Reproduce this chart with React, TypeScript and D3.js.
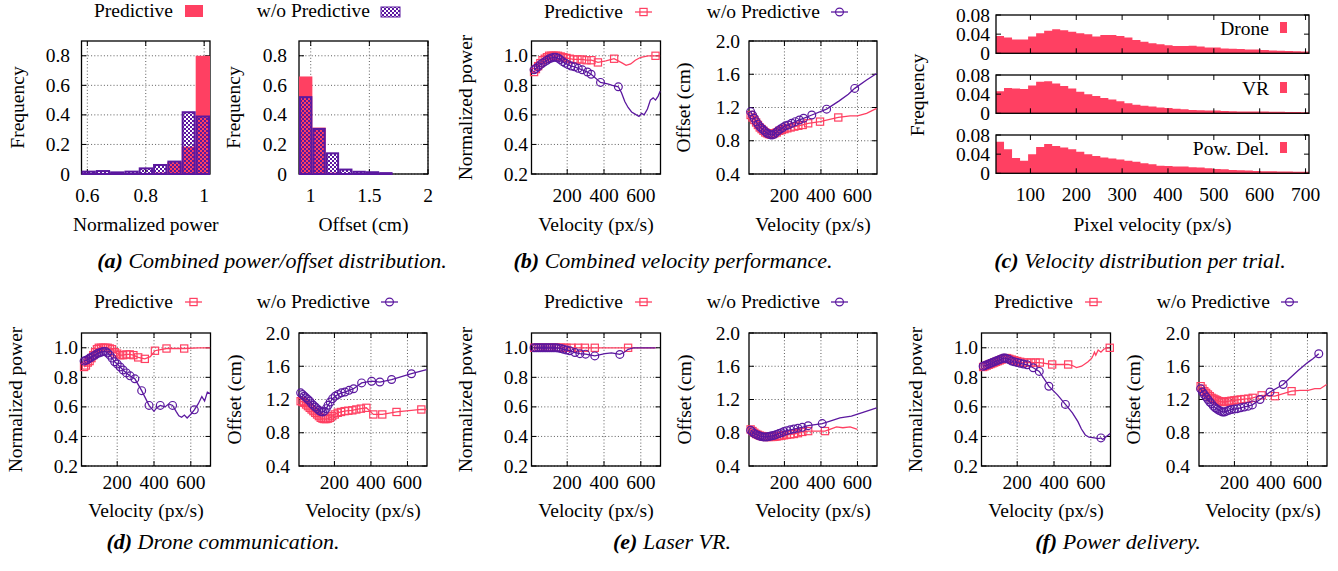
import React from 'react';
import * as d3 from 'd3';

type Pt = [number, number];

const RED = '#ff4062';
const PURPLE = '#5b189f';
const FONT = "Liberation Serif, 'DejaVu Serif', serif";
const FS = 19.5;

// ---- (a) combined histograms ----
const powEdges = [0.58, 0.629, 0.678, 0.727, 0.776, 0.825, 0.874, 0.923, 0.971, 1.02];
const powPred = [0, 0, 0, 0, 0.005, 0.01, 0.08, 0.185, 0.8];
const powNoPred = [0.016, 0.02, 0.011, 0.016, 0.038, 0.061, 0.084, 0.418, 0.389];
const offEdges = [0.9, 1.014, 1.128, 1.242, 1.356, 1.47, 1.584, 1.698];
const offPred = [0.66, 0.314, 0.01, 0, 0, 0, 0];
const offNoPred = [0.52, 0.305, 0.14, 0.03, 0.015, 0.012, 0.006];

// ---- (c) velocity distribution, bins of 17.5 px/s from 25 ----
const velBinStart = 25;
const velBinW = 17.5;
const droneFreq = [0.036, 0.033, 0.029, 0.029, 0.035, 0.042, 0.047, 0.05, 0.048, 0.045, 0.042, 0.04, 0.035, 0.038, 0.038, 0.036, 0.033, 0.028, 0.024, 0.021, 0.019, 0.017, 0.015, 0.015, 0.016, 0.014, 0.012, 0.012, 0.01, 0.0097, 0.009, 0.008, 0.008, 0.007, 0.006, 0.0055, 0.005, 0.0045, 0.004];
const vrFreq = [0.046, 0.053, 0.052, 0.051, 0.058, 0.066, 0.067, 0.062, 0.057, 0.052, 0.045, 0.04, 0.036, 0.032, 0.029, 0.025, 0.021, 0.018, 0.016, 0.014, 0.012, 0.011, 0.0097, 0.0083, 0.007, 0.0065, 0.006, 0.0056, 0.005, 0.0045, 0.004, 0.004, 0.0035, 0.0035, 0.003, 0.003, 0.0025, 0.0025, 0.002];
const powDelFreq = [0.066, 0.05, 0.032, 0.026, 0.04, 0.055, 0.061, 0.057, 0.054, 0.05, 0.045, 0.04, 0.036, 0.033, 0.031, 0.029, 0.026, 0.024, 0.021, 0.019, 0.016, 0.015, 0.014, 0.014, 0.0125, 0.012, 0.0104, 0.009, 0.0083, 0.007, 0.0063, 0.0056, 0.005, 0.0042, 0.0042, 0.0035, 0.0035, 0.003, 0.003];

// ---- (b) combined ----
const bPowPredMarks: Pt[] = [[20, 0.89], [30, 0.91], [42, 0.93], [54, 0.95], [66, 0.97], [78, 0.98], [90, 0.99], [102, 1.0], [114, 1.0], [126, 1.0], [138, 1.0], [150, 1.0], [165, 0.995], [180, 0.99], [196, 0.985], [214, 0.98], [234, 0.975], [256, 0.975], [280, 0.975], [305, 0.97], [332, 0.97], [367, 0.955], [455, 0.98], [680, 1.0]];
const bPowPredExtra: Pt[] = [[410, 0.965], [500, 0.95], [520, 0.935], [545, 0.945], [570, 0.97], [600, 0.99], [640, 1.0], [705, 1.0]];
const bPowNoMarks: Pt[] = [[20, 0.905], [30, 0.915], [42, 0.925], [54, 0.94], [66, 0.95], [78, 0.96], [90, 0.97], [102, 0.98], [114, 0.985], [126, 0.99], [138, 0.99], [150, 0.985], [162, 0.975], [176, 0.96], [190, 0.95], [205, 0.94], [222, 0.93], [240, 0.925], [260, 0.915], [282, 0.905], [310, 0.89], [330, 0.875], [381, 0.82], [478, 0.79]];
const bPowNoExtra: Pt[] = [[420, 0.81], [445, 0.8], [495, 0.75], [513, 0.69], [531, 0.65], [550, 0.62], [576, 0.6], [590, 0.59], [604, 0.61], [618, 0.6], [636, 0.64], [652, 0.7], [667, 0.715], [680, 0.7], [694, 0.727], [705, 0.76]];
const bOffPredMarks: Pt[] = [[15, 1.11], [25, 1.08], [35, 1.05], [45, 1.02], [55, 0.99], [65, 0.96], [75, 0.94], [85, 0.92], [95, 0.9], [105, 0.89], [115, 0.88], [125, 0.875], [135, 0.88], [145, 0.89], [158, 0.9], [172, 0.92], [186, 0.93], [200, 0.94], [216, 0.95], [234, 0.96], [254, 0.97], [276, 0.98], [300, 0.99], [330, 1.01], [395, 1.03], [495, 1.08]];
const bOffPredExtra: Pt[] = [[560, 1.1], [600, 1.1], [650, 1.13], [705, 1.19]];
const bOffNoMarks: Pt[] = [[15, 1.15], [25, 1.11], [35, 1.07], [45, 1.03], [55, 1.0], [65, 0.97], [75, 0.95], [85, 0.93], [95, 0.91], [105, 0.89], [115, 0.88], [125, 0.87], [135, 0.87], [145, 0.88], [155, 0.9], [165, 0.92], [178, 0.94], [192, 0.96], [206, 0.98], [222, 0.99], [240, 1.01], [260, 1.03], [282, 1.05], [305, 1.07], [350, 1.11], [431, 1.18], [585, 1.43]];
const bOffNoExtra: Pt[] = [[500, 1.28], [550, 1.36], [650, 1.53], [705, 1.61]];

// ---- (d) drone communication ----
const dPowPredMarks: Pt[] = [[20, 0.87], [30, 0.88], [40, 0.9], [50, 0.91], [60, 0.93], [70, 0.95], [80, 0.97], [90, 0.99], [100, 1.0], [112, 1.0], [124, 1.0], [136, 1.0], [148, 1.0], [160, 0.995], [172, 0.99], [186, 0.97], [200, 0.96], [216, 0.95], [232, 0.95], [250, 0.955], [268, 0.955], [288, 0.95], [314, 0.935], [350, 0.925], [405, 0.98], [468, 0.995], [564, 0.995]];
const dPowPredExtra: Pt[] = [[380, 0.94], [640, 1.0], [705, 1.0]];
const dPowNoMarks: Pt[] = [[20, 0.91], [30, 0.915], [40, 0.92], [50, 0.93], [60, 0.935], [70, 0.945], [80, 0.95], [90, 0.96], [100, 0.965], [112, 0.97], [124, 0.975], [136, 0.975], [148, 0.965], [160, 0.95], [172, 0.93], [186, 0.905], [200, 0.89], [216, 0.87], [232, 0.85], [250, 0.83], [270, 0.81], [296, 0.79], [333, 0.71], [373, 0.61], [434, 0.61], [501, 0.61], [619, 0.58]];
const dPowNoExtra: Pt[] = [[400, 0.57], [415, 0.595], [460, 0.6], [480, 0.62], [520, 0.57], [535, 0.54], [550, 0.53], [565, 0.545], [580, 0.525], [600, 0.55], [640, 0.62], [660, 0.67], [675, 0.64], [690, 0.7], [705, 0.69]];
const dOffPredMarks: Pt[] = [[15, 1.18], [25, 1.17], [35, 1.16], [45, 1.14], [55, 1.12], [65, 1.1], [75, 1.08], [85, 1.06], [95, 1.04], [105, 1.02], [115, 1.0], [125, 0.98], [135, 0.97], [145, 0.965], [155, 0.965], [165, 0.97], [175, 0.98], [188, 1.0], [202, 1.02], [218, 1.04], [236, 1.05], [256, 1.06], [276, 1.065], [298, 1.07], [320, 1.08], [345, 1.09], [375, 1.1], [413, 1.02], [462, 1.02], [540, 1.05], [676, 1.08]];
const dOffPredExtra: Pt[] = [[705, 1.08]];
const dOffNoMarks: Pt[] = [[15, 1.28], [25, 1.26], [35, 1.24], [45, 1.22], [55, 1.2], [65, 1.18], [75, 1.15], [85, 1.13], [95, 1.11], [105, 1.09], [115, 1.07], [125, 1.055], [135, 1.05], [145, 1.06], [155, 1.09], [165, 1.13], [177, 1.17], [190, 1.21], [204, 1.24], [220, 1.26], [238, 1.28], [258, 1.29], [280, 1.31], [305, 1.33], [349, 1.4], [404, 1.42], [449, 1.41], [513, 1.44], [622, 1.51]];
const dOffNoExtra: Pt[] = [[705, 1.56]];

// ---- (e) laser VR ----
const ePowPredMarks: Pt[] = [[20, 1.0], [32, 1.0], [44, 1.0], [56, 1.0], [68, 1.0], [80, 1.0], [92, 1.0], [104, 1.0], [116, 1.0], [128, 1.0], [140, 1.0], [152, 1.0], [166, 1.0], [180, 1.0], [196, 1.0], [224, 1.0], [260, 1.0], [296, 1.0], [350, 1.0], [531, 1.0]];
const ePowPredExtra: Pt[] = [[680, 1.0]];
const ePowNoMarks: Pt[] = [[20, 1.0], [32, 1.0], [44, 1.0], [56, 1.0], [68, 1.0], [80, 1.0], [92, 1.0], [104, 1.0], [116, 1.0], [128, 1.0], [140, 1.0], [152, 0.998], [166, 0.995], [180, 0.99], [196, 0.985], [214, 0.98], [242, 0.968], [269, 0.96], [300, 0.957], [350, 0.945], [486, 0.955]];
const ePowNoExtra: Pt[] = [[405, 0.96], [441, 0.965], [510, 0.97], [531, 0.99], [560, 1.0], [680, 1.0]];
const eOffPredMarks: Pt[] = [[15, 0.84], [25, 0.82], [35, 0.8], [45, 0.785], [55, 0.775], [65, 0.765], [75, 0.76], [85, 0.755], [95, 0.75], [105, 0.75], [115, 0.75], [125, 0.75], [135, 0.75], [145, 0.752], [157, 0.755], [170, 0.76], [184, 0.765], [198, 0.77], [214, 0.775], [232, 0.78], [252, 0.785], [274, 0.795], [298, 0.81], [330, 0.82], [422, 0.82]];
const eOffPredExtra: Pt[] = [[460, 0.85], [485, 0.87], [520, 0.86], [560, 0.87], [600, 0.84]];
const eOffNoMarks: Pt[] = [[15, 0.83], [25, 0.81], [35, 0.79], [45, 0.78], [55, 0.77], [65, 0.76], [75, 0.755], [85, 0.75], [95, 0.75], [105, 0.75], [115, 0.755], [125, 0.76], [135, 0.765], [145, 0.77], [157, 0.78], [170, 0.79], [184, 0.8], [198, 0.815], [214, 0.825], [232, 0.835], [252, 0.845], [274, 0.855], [298, 0.865], [330, 0.885], [407, 0.91]];
const eOffNoExtra: Pt[] = [[450, 0.94], [504, 0.98], [567, 1.0], [622, 1.04], [705, 1.1]];

// ---- (f) power delivery ----
const fPowPredMarks: Pt[] = [[15, 0.87], [25, 0.875], [35, 0.88], [45, 0.885], [55, 0.89], [65, 0.895], [75, 0.9], [85, 0.905], [95, 0.91], [105, 0.915], [115, 0.92], [125, 0.925], [135, 0.93], [145, 0.93], [157, 0.925], [170, 0.92], [184, 0.915], [200, 0.91], [216, 0.905], [234, 0.9], [254, 0.9], [276, 0.9], [300, 0.9], [323, 0.9], [390, 0.887], [477, 0.887], [703, 1.0]];
const fPowPredExtra: Pt[] = [[500, 0.88], [522, 0.866], [550, 0.875], [585, 0.905], [605, 0.93], [613, 0.95], [620, 0.97], [627, 0.95], [640, 0.985], [655, 0.97], [670, 0.99], [690, 1.0]];
const fPowNoMarks: Pt[] = [[15, 0.875], [25, 0.88], [35, 0.885], [45, 0.89], [55, 0.895], [65, 0.9], [75, 0.905], [85, 0.91], [95, 0.915], [105, 0.92], [115, 0.925], [125, 0.93], [135, 0.93], [145, 0.925], [157, 0.92], [170, 0.91], [184, 0.905], [200, 0.9], [216, 0.895], [234, 0.89], [254, 0.885], [287, 0.865], [320, 0.84], [372, 0.74], [462, 0.617], [655, 0.39]];
const fPowNoExtra: Pt[] = [[420, 0.68], [500, 0.56], [530, 0.5], [549, 0.45], [570, 0.41], [590, 0.395], [620, 0.39], [640, 0.385], [665, 0.38], [685, 0.4], [705, 0.42]];
const fOffPredMarks: Pt[] = [[15, 1.36], [25, 1.33], [35, 1.3], [45, 1.28], [55, 1.26], [65, 1.24], [75, 1.22], [85, 1.21], [95, 1.2], [105, 1.19], [115, 1.18], [125, 1.175], [135, 1.17], [145, 1.17], [157, 1.175], [170, 1.18], [184, 1.185], [200, 1.19], [216, 1.195], [234, 1.2], [254, 1.205], [276, 1.21], [300, 1.22], [349, 1.25], [422, 1.24], [513, 1.3]];
const fOffPredExtra: Pt[] = [[560, 1.31], [604, 1.31], [640, 1.33], [670, 1.33], [705, 1.38]];
const fOffNoMarks: Pt[] = [[15, 1.33], [25, 1.29], [35, 1.26], [45, 1.23], [55, 1.2], [65, 1.17], [75, 1.15], [85, 1.12], [95, 1.1], [105, 1.085], [115, 1.07], [125, 1.06], [135, 1.05], [145, 1.05], [157, 1.06], [170, 1.07], [184, 1.08], [200, 1.085], [216, 1.09], [234, 1.1], [254, 1.11], [276, 1.12], [298, 1.135], [340, 1.2], [395, 1.29], [467, 1.38], [662, 1.75]];
const fOffNoExtra: Pt[] = [[500, 1.45], [549, 1.55], [604, 1.65], [630, 1.69]];

const velDomain = [6, 707];
const velTicks = [200, 400, 600];
const powDomain = [0.2, 1.1];
const powTicks = [0.2, 0.4, 0.6, 0.8, 1.0];
const offDomain = [0.4, 2.0];
const offTicks = [0.4, 0.8, 1.2, 1.6, 2.0];

const txt = { fontFamily: FONT, fontSize: FS, fill: '#000' };

function Axes({ x, y, xTicks, yTicks, xFmt, yFmt, grid, xTickBase, yTickRight }: any) {
  const [l, r] = x.range();
  const [b, t] = y.range();
  const dot = { stroke: '#333', strokeWidth: 0.8, strokeDasharray: '1 2.2' };
  return (
    <g>
      {grid && xTicks.map((v: number) => <line key={'gx' + v} x1={x(v)} x2={x(v)} y1={b} y2={t} {...dot} />)}
      {grid && yTicks.map((v: number) => <line key={'gy' + v} x1={l} x2={r} y1={y(v)} y2={y(v)} {...dot} />)}
      {xTicks.map((v: number) => (
        <g key={'tx' + v} stroke="#000" strokeWidth={1}>
          <line x1={x(v)} x2={x(v)} y1={b} y2={b - 5} />
          <line x1={x(v)} x2={x(v)} y1={t} y2={t + 5} />
        </g>
      ))}
      {yTicks.map((v: number) => (
        <g key={'ty' + v} stroke="#000" strokeWidth={1}>
          <line x1={l} x2={l + 5} y1={y(v)} y2={y(v)} />
          <line x1={r} x2={r - 5} y1={y(v)} y2={y(v)} />
        </g>
      ))}
      <rect x={l} y={t} width={r - l} height={b - t} fill="none" stroke="#000" strokeWidth={1.3} />
      {xTickBase != null && xTicks.map((v: number) => (
        <text key={'lx' + v} x={x(v)} y={xTickBase} textAnchor="middle" {...txt}>{xFmt(v)}</text>
      ))}
      {yTicks.map((v: number) => (
        <text key={'ly' + v} x={yTickRight} y={y(v) + 6.5} textAnchor="end" {...txt}>{yFmt(v)}</text>
      ))}
    </g>
  );
}

function VLabel({ x, y, children }: any) {
  return (
    <text transform={`translate(${x},${y}) rotate(-90)`} textAnchor="middle" dominantBaseline="central" {...txt}>{children}</text>
  );
}

function Marker({ shape, cx, cy, color }: any) {
  if (shape === 'sq') return <rect x={cx - 3.6} y={cy - 3.6} width={7.2} height={7.2} fill="none" stroke={color} strokeWidth={1.2} />;
  return <circle cx={cx} cy={cy} r={3.9} fill="none" stroke={color} strokeWidth={1.2} />;
}

const fmt1 = d3.format('.1f');

function VelPlot({ box, yDomain, yTicks, yLab, yLabX, tickR, xTickBase, xLabBase, pred, nopred }: any) {
  const x = d3.scaleLinear().domain(velDomain).range([box.l, box.r]);
  const y = d3.scaleLinear().domain(yDomain).range([box.b, box.t]);
  const line = d3.line<Pt>().x(d => x(d[0])).y(d => y(d[1]));
  const series = [
    { ...pred, color: RED, shape: 'sq' },
    { ...nopred, color: PURPLE, shape: 'ci' },
  ];
  return (
    <g>
      <Axes x={x} y={y} xTicks={velTicks} yTicks={yTicks} xFmt={String} yFmt={fmt1} grid xTickBase={xTickBase} yTickRight={tickR} />
      {series.map((s: any, i: number) => {
        const pts = [...s.marks, ...s.extra].sort((p: Pt, q: Pt) => p[0] - q[0]);
        return (
          <g key={i}>
            <path d={line(pts) || ''} fill="none" stroke={s.color} strokeWidth={1.3} />
            {s.marks.map((p: Pt, j: number) => <Marker key={j} shape={s.shape} cx={x(p[0])} cy={y(p[1])} color={s.color} />)}
          </g>
        );
      })}
      <text x={(box.l + box.r) / 2} y={xLabBase} textAnchor="middle" {...txt}>Velocity (px/s)</text>
      <VLabel x={yLabX} y={(box.t + box.b) / 2}>{yLab}</VLabel>
    </g>
  );
}

function HistPlot({ box, edges, pred, nopred, xDomain, xTicks, yLabX, tickR, xLab }: any) {
  const x = d3.scaleLinear().domain(xDomain).range([box.l, box.r]);
  const y = d3.scaleLinear().domain([0, 0.9]).range([box.b, box.t]);
  return (
    <g>
      <Axes x={x} y={y} xTicks={xTicks} yTicks={[0, 0.2, 0.4, 0.6, 0.8]} xFmt={String} yFmt={String} grid xTickBase={202} yTickRight={tickR} />
      {pred.map((v: number, i: number) => v > 0 && (
        <rect key={'p' + i} x={x(edges[i])} y={y(v)} width={x(edges[i + 1]) - x(edges[i])} height={y(0) - y(v)} fill={RED} />
      ))}
      {nopred.map((v: number, i: number) => (
        <rect key={'n' + i} x={x(edges[i]) + 1} y={y(v)} width={x(edges[i + 1]) - x(edges[i]) - 2} height={y(0) - y(v)} fill="url(#chk)" stroke={PURPLE} strokeWidth={2} />
      ))}
      <text x={(box.l + box.r) / 2} y={231} textAnchor="middle" {...txt}>{xLab}</text>
      <VLabel x={yLabX} y={(box.t + box.b) / 2}>Frequency</VLabel>
    </g>
  );
}

function VelHist({ box, freq, name }: any) {
  const x = d3.scaleLinear().domain([velBinStart, velBinStart + velBinW * freq.length]).range([996, 1309]);
  const y = d3.scaleLinear().domain([0, 0.08]).range([box.b, box.t]);
  const area = d3.area<number>()
    .curve(d3.curveStepAfter)
    .x((_, i) => x(velBinStart + i * velBinW))
    .y0(y(0))
    .y1(d => y(d));
  const steps = [...freq, freq[freq.length - 1]];
  return (
    <g>
      <path d={area(steps) || ''} fill={RED} />
      <Axes x={x} y={y} xTicks={[100, 200, 300, 400, 500, 600, 700]} yTicks={[0, 0.04, 0.08]} xFmt={String} yFmt={String} grid={false} xTickBase={box.xTickBase} yTickRight={990} />
      <text x={1269} y={box.t + 19.5} textAnchor="end" {...txt}>{name}</text>
      <rect x={1280} y={box.t + 7} width={7} height={11} fill={RED} />
    </g>
  );
}

function LineKey({ y, items }: any) {
  return (
    <g>
      {items.map((it: any, i: number) => (
        <g key={i}>
          <text x={it.tx} y={y} textAnchor="end" {...txt}>{it.label}</text>
          <line x1={it.lx} x2={it.lx + 17} y1={y - 6} y2={y - 6} stroke={it.color} strokeWidth={1.3} />
          <Marker shape={it.shape} cx={it.lx + 8.5} cy={y - 6} color={it.color} />
        </g>
      ))}
    </g>
  );
}

function keyItems(dx: number, dx2: number) {
  return [
    { tx: 173 + dx, lx: 185 + dx, label: 'Predictive', color: RED, shape: 'sq' },
    { tx: 370 + dx2, lx: 381 + dx2, label: 'w/o Predictive', color: PURPLE, shape: 'ci' },
  ];
}

function Caption({ x, y, tag, text }: any) {
  return (
    <text x={x} y={y} textAnchor="middle" fontFamily={FONT} fontSize={22} fontStyle="italic">
      <tspan fontWeight="bold">{tag}</tspan> {text}
    </text>
  );
}

export default function App() {
  const top = { t: 41, b: 174 };
  const bot = { t: 333, b: 466 };
  const pair = (lx: number, rx: number, row: any, set: any, tb: number, lb: number, labs: number[], ticks: number[]) => (
    <g>
      <VelPlot box={{ l: lx, r: lx + 129, ...row }} yDomain={powDomain} yTicks={powTicks} yLab="Normalized power" yLabX={labs[0]} tickR={ticks[0]} xTickBase={tb} xLabBase={lb} pred={set.powPred} nopred={set.powNo} />
      <VelPlot box={{ l: rx, r: rx + 128, ...row }} yDomain={offDomain} yTicks={offTicks} yLab="Offset (cm)" yLabX={labs[1]} tickR={ticks[1]} xTickBase={tb} xLabBase={lb} pred={set.offPred} nopred={set.offNo} />
    </g>
  );
  const setB = { powPred: { marks: bPowPredMarks, extra: bPowPredExtra }, powNo: { marks: bPowNoMarks, extra: bPowNoExtra }, offPred: { marks: bOffPredMarks, extra: bOffPredExtra }, offNo: { marks: bOffNoMarks, extra: bOffNoExtra } };
  const setD = { powPred: { marks: dPowPredMarks, extra: dPowPredExtra }, powNo: { marks: dPowNoMarks, extra: dPowNoExtra }, offPred: { marks: dOffPredMarks, extra: dOffPredExtra }, offNo: { marks: dOffNoMarks, extra: dOffNoExtra } };
  const setE = { powPred: { marks: ePowPredMarks, extra: ePowPredExtra }, powNo: { marks: ePowNoMarks, extra: ePowNoExtra }, offPred: { marks: eOffPredMarks, extra: eOffPredExtra }, offNo: { marks: eOffNoMarks, extra: eOffNoExtra } };
  const setF = { powPred: { marks: fPowPredMarks, extra: fPowPredExtra }, powNo: { marks: fPowNoMarks, extra: fPowNoExtra }, offPred: { marks: fOffPredMarks, extra: fOffPredExtra }, offNo: { marks: fOffNoMarks, extra: fOffNoExtra } };

  return (
    <svg width={1338} height={571} style={{ position: 'absolute', left: 0, top: 0, background: '#fff' }}>
      <defs>
        <pattern id="chk" width={4} height={4} patternUnits="userSpaceOnUse">
          <rect x={0} y={0} width={2} height={2} fill={PURPLE} />
          <rect x={2} y={2} width={2} height={2} fill={PURPLE} />
        </pattern>
      </defs>
      <rect width={1338} height={571} fill="#fff" />

      {/* (a) */}
      <text x={173} y={17} textAnchor="end" {...txt}>Predictive</text>
      <rect x={185} y={5} width={18} height={12} fill={RED} />
      <text x={370} y={17} textAnchor="end" {...txt}>w/o Predictive</text>
      <rect x={381} y={7} width={19} height={10} fill="url(#chk)" stroke={PURPLE} strokeWidth={1} />
      <HistPlot box={{ l: 81.5, r: 210, ...top }} edges={powEdges} pred={powPred} nopred={powNoPred} xDomain={[0.58, 1.02]} xTicks={[0.6, 0.8, 1]} yLabX={17} tickR={70} xLab="Normalized power" />
      <HistPlot box={{ l: 299, r: 428, ...top }} edges={offEdges} pred={offPred} nopred={offNoPred} xDomain={[0.9, 2]} xTicks={[1, 1.5, 2]} yLabX={233} tickR={287} xLab="Offset (cm)" />
      <Caption x={272} y={268} tag="(a)" text="Combined power/offset distribution." />

      {/* (b) */}
      <LineKey y={18} items={keyItems(450, 450)} />
      {pair(531.5, 749, top, setB, 202, 231, [465, 683], [528, 740])}
      <Caption x={673} y={268} tag="(b)" text="Combined velocity performance." />

      {/* (c) */}
      <VelHist box={{ t: 15, b: 53.3 }} freq={droneFreq} name="Drone" />
      <VelHist box={{ t: 75, b: 113.3 }} freq={vrFreq} name="VR" />
      <VelHist box={{ t: 135, b: 173.3, xTickBase: 201 }} freq={powDelFreq} name="Pow. Del." />
      <text x={1152.5} y={231} textAnchor="middle" {...txt}>Pixel velocity (px/s)</text>
      <VLabel x={917} y={95}>Frequency</VLabel>
      <Caption x={1140} y={268} tag="(c)" text="Velocity distribution per trial." />

      {/* (d) */}
      <LineKey y={308} items={keyItems(0, 0)} />
      {pair(81.5, 299, bot, setD, 489, 517, [15, 234], [78, 290])}
      <Caption x={223} y={549} tag="(d)" text="Drone communication." />

      {/* (e) */}
      <LineKey y={308} items={keyItems(450, 450)} />
      {pair(531.5, 749, bot, setE, 489, 517, [465, 684], [528, 740])}
      <Caption x={672} y={549} tag="(e)" text="Laser VR." />

      {/* (f) */}
      <LineKey y={308} items={keyItems(900, 900)} />
      {pair(981.5, 1199, bot, setF, 489, 517, [915, 1133], [978, 1190])}
      <Caption x={1118} y={549} tag="(f)" text="Power delivery." />
    </svg>
  );
}
